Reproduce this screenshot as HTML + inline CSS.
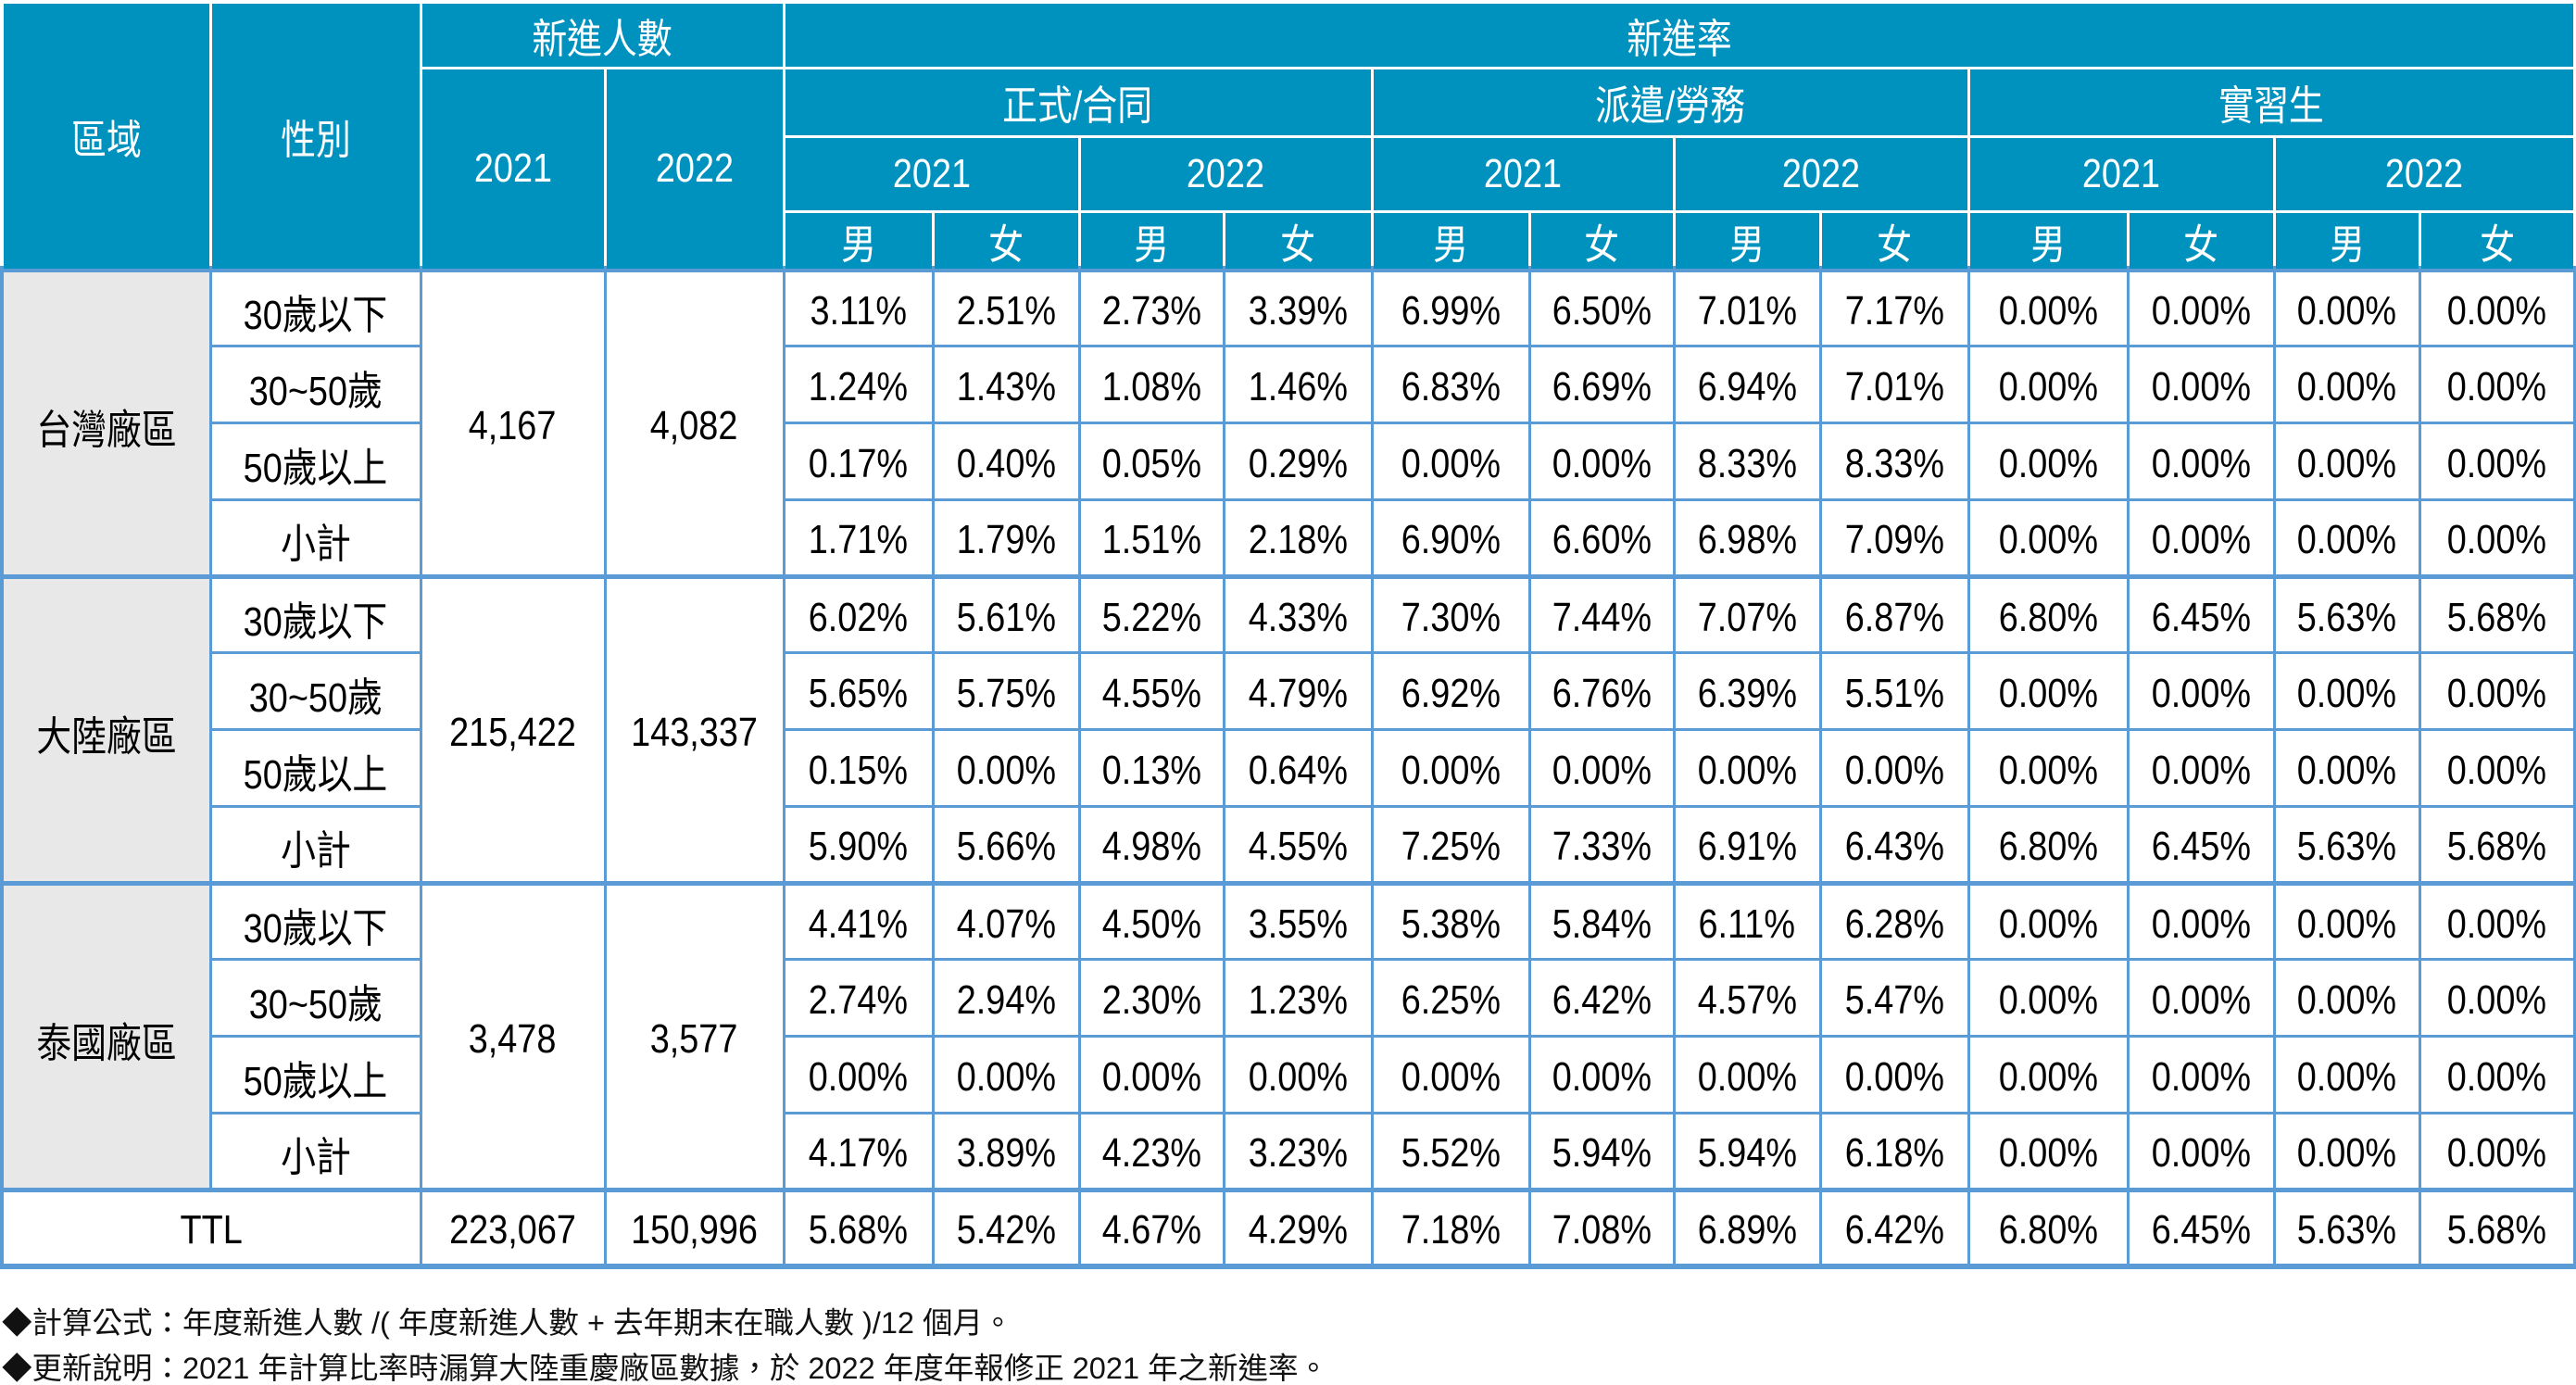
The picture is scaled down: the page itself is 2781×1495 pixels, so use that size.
<!DOCTYPE html>
<html><head><meta charset="utf-8">
<style>
html,body{margin:0;padding:0;background:#fff;}
#root{position:relative;width:2781px;height:1495px;overflow:hidden;font-family:"Liberation Sans","Noto Sans CJK TC",sans-serif;}
.c{position:absolute;display:flex;align-items:center;justify-content:center;box-sizing:border-box;white-space:nowrap;}
.c span{display:inline-block;transform:scaleX(0.86);}
.h{background:#0092BE;color:#fff;font-size:44px;}
.b{background:#fff;color:#000;font-size:44px;padding-top:6px;}
.g{background:#E8E8E8;}
.note{position:absolute;left:2px;font-size:32.5px;color:#111;white-space:nowrap;}
</style></head>
<body>
<div id="root">
<div style="position:absolute;left:0;top:0;width:2781px;height:291px;background:#fff;"></div>
<div style="position:absolute;left:0;top:287px;width:2781px;height:1083px;background:#5B9BD5;"></div>
<div class="note" style="top:1402px;">◆計算公式：年度新進人數 /( 年度新進人數 + 去年期末在職人數 )/12 個月。</div>
<div class="note" style="top:1451px;">◆更新說明：2021 年計算比率時漏算大陸重慶廠區數據，於 2022 年度年報修正 2021 年之新進率。</div>
</div>
<script>
const colEdges=[2,227,454,653,846,1007,1165,1321,1481,1651,1807,1965,2125,2297,2455,2612,2779];
const hdrEdges=[2,73,147,228,291];
const regions=["台灣廠區","大陸廠區","泰國廠區"];
const ages=["30歲以下","30~50歲","50歲以上","小計"];
const hires2021=["4,167","215,422","3,478"];
const hires2022=["4,082","143,337","3,577"];
const rates=[
[[3.11,2.51,2.73,3.39,6.99,6.50,7.01,7.17,0,0,0,0],
 [1.24,1.43,1.08,1.46,6.83,6.69,6.94,7.01,0,0,0,0],
 [0.17,0.40,0.05,0.29,0,0,8.33,8.33,0,0,0,0],
 [1.71,1.79,1.51,2.18,6.90,6.60,6.98,7.09,0,0,0,0]],
[[6.02,5.61,5.22,4.33,7.30,7.44,7.07,6.87,6.80,6.45,5.63,5.68],
 [5.65,5.75,4.55,4.79,6.92,6.76,6.39,5.51,0,0,0,0],
 [0.15,0,0.13,0.64,0,0,0,0,0,0,0,0],
 [5.90,5.66,4.98,4.55,7.25,7.33,6.91,6.43,6.80,6.45,5.63,5.68]],
[[4.41,4.07,4.50,3.55,5.38,5.84,6.11,6.28,0,0,0,0],
 [2.74,2.94,2.30,1.23,6.25,6.42,4.57,5.47,0,0,0,0],
 [0,0,0,0,0,0,0,0,0,0,0,0],
 [4.17,3.89,4.23,3.23,5.52,5.94,5.94,6.18,0,0,0,0]]];
const ttlHires=["223,067","150,996"];
const ttlRates=[5.68,5.42,4.67,4.29,7.18,7.08,6.89,6.42,6.80,6.45,5.63,5.68];

const root=document.getElementById('root');
const rowTop=291, rowH=(1367-291)/13;
function cell(c0,c1,y0,y1,text,cls,name,bt,bb){
  const d=document.createElement('div');
  d.className='c '+cls;
  const g=1.5;
  d.style.left=(colEdges[c0]+g)+'px';
  d.style.width=(colEdges[c1]-colEdges[c0]-2*g)+'px';
  d.style.top=(y0+(bt||g))+'px';
  d.style.height=(y1-y0-(bt||g)-(bb||g))+'px';
  const s=document.createElement('span');
  s.textContent=text;
  d.appendChild(s);
  
  
  root.appendChild(d);
}
cell(0,1,hdrEdges[0],hdrEdges[4],"區域","h","header-region");
cell(1,2,hdrEdges[0],hdrEdges[4],"性別","h","header-age");
cell(2,4,hdrEdges[0],hdrEdges[1],"新進人數","h","header-new-hires");
cell(2,3,hdrEdges[1],hdrEdges[4],"2021","h","header-hires-2021");
cell(3,4,hdrEdges[1],hdrEdges[4],"2022","h","header-hires-2022");
cell(4,16,hdrEdges[0],hdrEdges[1],"新進率","h","header-new-hire-rate");
const cats=["正式/合同","派遣/勞務","實習生"];
const years=["2021","2022"];
const sexes=["男","女"];
for(let k=0;k<3;k++){
  cell(4+k*4,8+k*4,hdrEdges[1],hdrEdges[2],cats[k],"h","header-category");
  for(let y=0;y<2;y++){
    cell(4+k*4+y*2,6+k*4+y*2,hdrEdges[2],hdrEdges[3],years[y],"h","header-year");
    for(let s=0;s<2;s++){
      cell(4+k*4+y*2+s,5+k*4+y*2+s,hdrEdges[3],hdrEdges[4],sexes[s],"h","header-sex");
    }
  }
}
function fmt(v){return v.toFixed(2)+'%';}
for(let r=0;r<3;r++){
  const y0=rowTop+r*4*rowH, y1=rowTop+(r+1)*4*rowH;
  cell(0,1,y0,y1,regions[r],"b g","region-name",2.5,2.5);
  cell(2,3,y0,y1,hires2021[r],"b","hires-2021",2.5,2.5);
  cell(3,4,y0,y1,hires2022[r],"b","hires-2022",2.5,2.5);
  for(let a=0;a<4;a++){
    const ya=y0+a*rowH, yb=ya+rowH;
    const bt=a==0?2.5:1.5, bb=a==3?2.5:1.5;
    cell(1,2,ya,yb,ages[a],"b","age-group",bt,bb);
    for(let j=0;j<12;j++){
      cell(4+j,5+j,ya,yb,fmt(rates[r][a][j]),"b","rate-cell",bt,bb);
    }
  }
}
const yt0=rowTop+12*rowH, yt1=rowTop+13*rowH;
cell(0,2,yt0,yt1,"TTL","b","total-label",2.5,3);
cell(2,3,yt0,yt1,ttlHires[0],"b","total-hires-2021",2.5,3);
cell(3,4,yt0,yt1,ttlHires[1],"b","total-hires-2022",2.5,3);
for(let j=0;j<12;j++){
  cell(4+j,5+j,yt0,yt1,fmt(ttlRates[j]),"b","total-rate-cell",2.5,3);
}
</script>
</body></html>
